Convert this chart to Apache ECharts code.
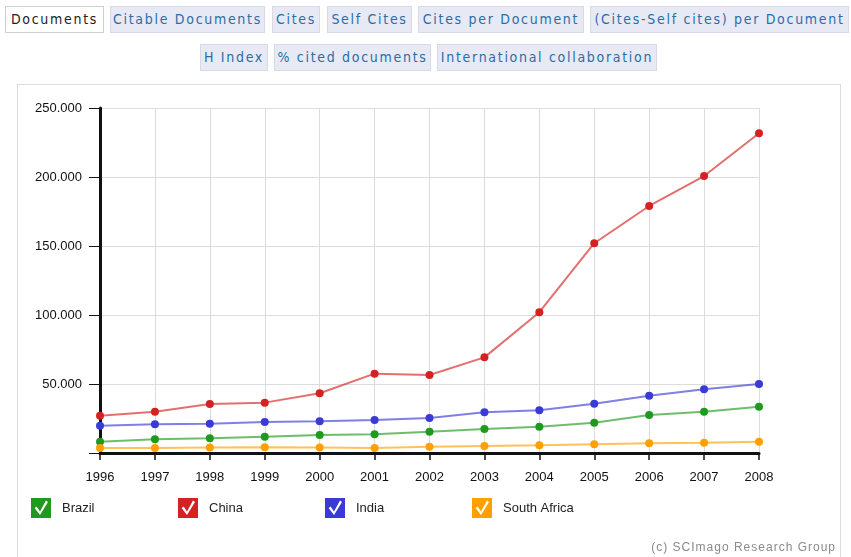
<!DOCTYPE html>
<html>
<head>
<meta charset="utf-8">
<script src="https://cdn.jsdelivr.net/npm/echarts@6/dist/echarts.min.js"></script>
<style>
  html, body { margin: 0; padding: 0; background: #fff; }
  #wrap { position: relative; width: 851px; height: 557px; overflow: hidden; }
  .tab {
    position: absolute; height: 25px; line-height: 25px; text-align: center;
    border: 1px solid #d6d9e6; background: #e7e9f5; color: #2a6ea6;
    font-family: "DejaVu Sans Condensed", "DejaVu Sans", sans-serif; font-stretch: condensed;
    letter-spacing: 1.7px; font-size: 14px; box-sizing: content-box; white-space: nowrap;
  }
  .tab.on { background: #fff; color: #222; border-color: #d0d0d0; }
  #panel { position: absolute; left: 17px; top: 84px; width: 822px; height: 500px; border: 1px solid #dcdcdc; }
  #line1 { position: absolute; left: 0; top: 0; width: 851px; height: 557px; }
  #credit { position: absolute; right: 15px; top: 540px; color: #8a8a8a; letter-spacing: 1px;
    font-family: "Liberation Sans", Arial, sans-serif; font-size: 12px; }
</style>
</head>
<body>
<div id="wrap">
  <div class="tab on" style="left:5px;top:6px;width:97px;">Documents</div>
  <div class="tab" style="left:110px;top:6px;width:153px;">Citable Documents</div>
  <div class="tab" style="left:272px;top:6px;width:46px;">Cites</div>
  <div class="tab" style="left:327px;top:6px;width:83px;">Self Cites</div>
  <div class="tab" style="left:418px;top:6px;width:164px;">Cites per Document</div>
  <div class="tab" style="left:590px;top:6px;width:257px;">(Cites-Self cites) per Document</div>
  <div class="tab" style="left:200px;top:44px;width:66px;">H Index</div>
  <div class="tab" style="left:274px;top:44px;width:155px;">% cited documents</div>
  <div class="tab" style="left:437px;top:44px;width:218px;">International collaboration</div>
  <div id="panel"></div>
  <div id="line1"></div>
  <div id="credit">(c) SCImago Research Group</div>
</div>
<script>
const years = ['1996','1997','1998','1999','2000','2001','2002','2003','2004','2005','2006','2007','2008'];
const brazil = [8200, 9900, 10600, 11800, 13000, 13500, 15400, 17400, 19100, 22000, 27500, 29900, 33600];
const china = [27000, 29900, 35500, 36500, 43300, 57500, 56500, 69300, 102000, 152000, 179000, 200700, 231700];
const india = [19800, 20800, 21200, 22500, 23000, 23900, 25400, 29500, 30900, 35700, 41500, 46200, 50000];
const southAfrica = [3600, 3600, 3900, 4100, 3900, 3600, 4600, 5100, 5600, 6300, 7000, 7500, 8200];
const seriesNames = ['Brazil', 'China', 'India', 'South Africa'];
const colorList = ['#1f9a1f', '#d42222', '#3a3ad6', '#ff9f00'];
const yTicks = [0, 50000, 100000, 150000, 200000, 250000];

// checkbox icon: square with a check cut out
const checkIcon = 'path://M0 0L20 0L20 20L0 20Z M9 17L17 4L15 2.6L9 13.6L5.6 8.6L3.6 10Z';

let line1 = echarts.init(document.getElementById('line1'));
const fontFam = '"Liberation Sans", Arial, sans-serif';

function fmt(v) {
    if (v === 0) return '';
    return String(v).replace(/\B(?=(\d{3})+(?!\d))/g, '.');
}

function makeSeries(name, data, i) {
    return {
        name: name,
        type: 'line',
        data: data,
        symbol: 'circle',
        symbolSize: 8,
        showSymbol: true,
        lineStyle: { color: colorList[i], width: 2, opacity: 0.65 },
        itemStyle: { color: colorList[i] },
        z: 3 + i
    };
}

// one legend block per country, evenly spaced like the original checkboxes
let legends = seriesNames.map(function(name, i) {
    return {
        data: [name],
        left: 31 + i * 147,
        top: 498,
        padding: 0,
        icon: checkIcon,
        itemWidth: 20,
        itemHeight: 20,
        formatter: '{a|{name}}',
        textStyle: {
            color: '#222', fontSize: 13, fontFamily: fontFam,
            rich: { a: { padding: [0, 0, 0, 6], fontSize: 13, fontFamily: fontFam, color: '#222' } }
        }
    };
});

let option = {
    backgroundColor: 'transparent',
    animation: false,
    color: colorList,
    grid: { left: 100, right: 92, top: 108, bottom: 104 },
    legend: legends,
    xAxis: {
        type: 'category',
        data: years,
        boundaryGap: false,
        axisLine: { lineStyle: { color: '#111', width: 3 } },
        axisTick: { show: true, length: 7, lineStyle: { color: '#111', width: 1.5 } },
        axisLabel: { color: '#111', fontSize: 13, fontFamily: fontFam, margin: 18 },
        splitLine: { show: true, lineStyle: { color: '#dcdcdc', width: 1 } }
    },
    yAxis: {
        type: 'value',
        min: yTicks[0],
        max: yTicks[yTicks.length - 1],
        interval: 50000,
        axisLine: { show: true, lineStyle: { color: '#111', width: 3 } },
        axisTick: { show: true, length: 11, lineStyle: { color: '#111', width: 1 } },
        axisLabel: { color: '#111', fontSize: 13, fontFamily: fontFam, margin: 18, formatter: fmt },
        splitLine: { show: true, lineStyle: { color: '#dcdcdc', width: 1 } }
    },
    series: [
        makeSeries(seriesNames[0], brazil, 0),
        makeSeries(seriesNames[1], china, 1),
        makeSeries(seriesNames[2], india, 2),
        makeSeries(seriesNames[3], southAfrica, 3)
    ]
};

line1.setOption(option);
window.onresize = function() {
    line1.resize();
}
</script>
</body>
</html>
